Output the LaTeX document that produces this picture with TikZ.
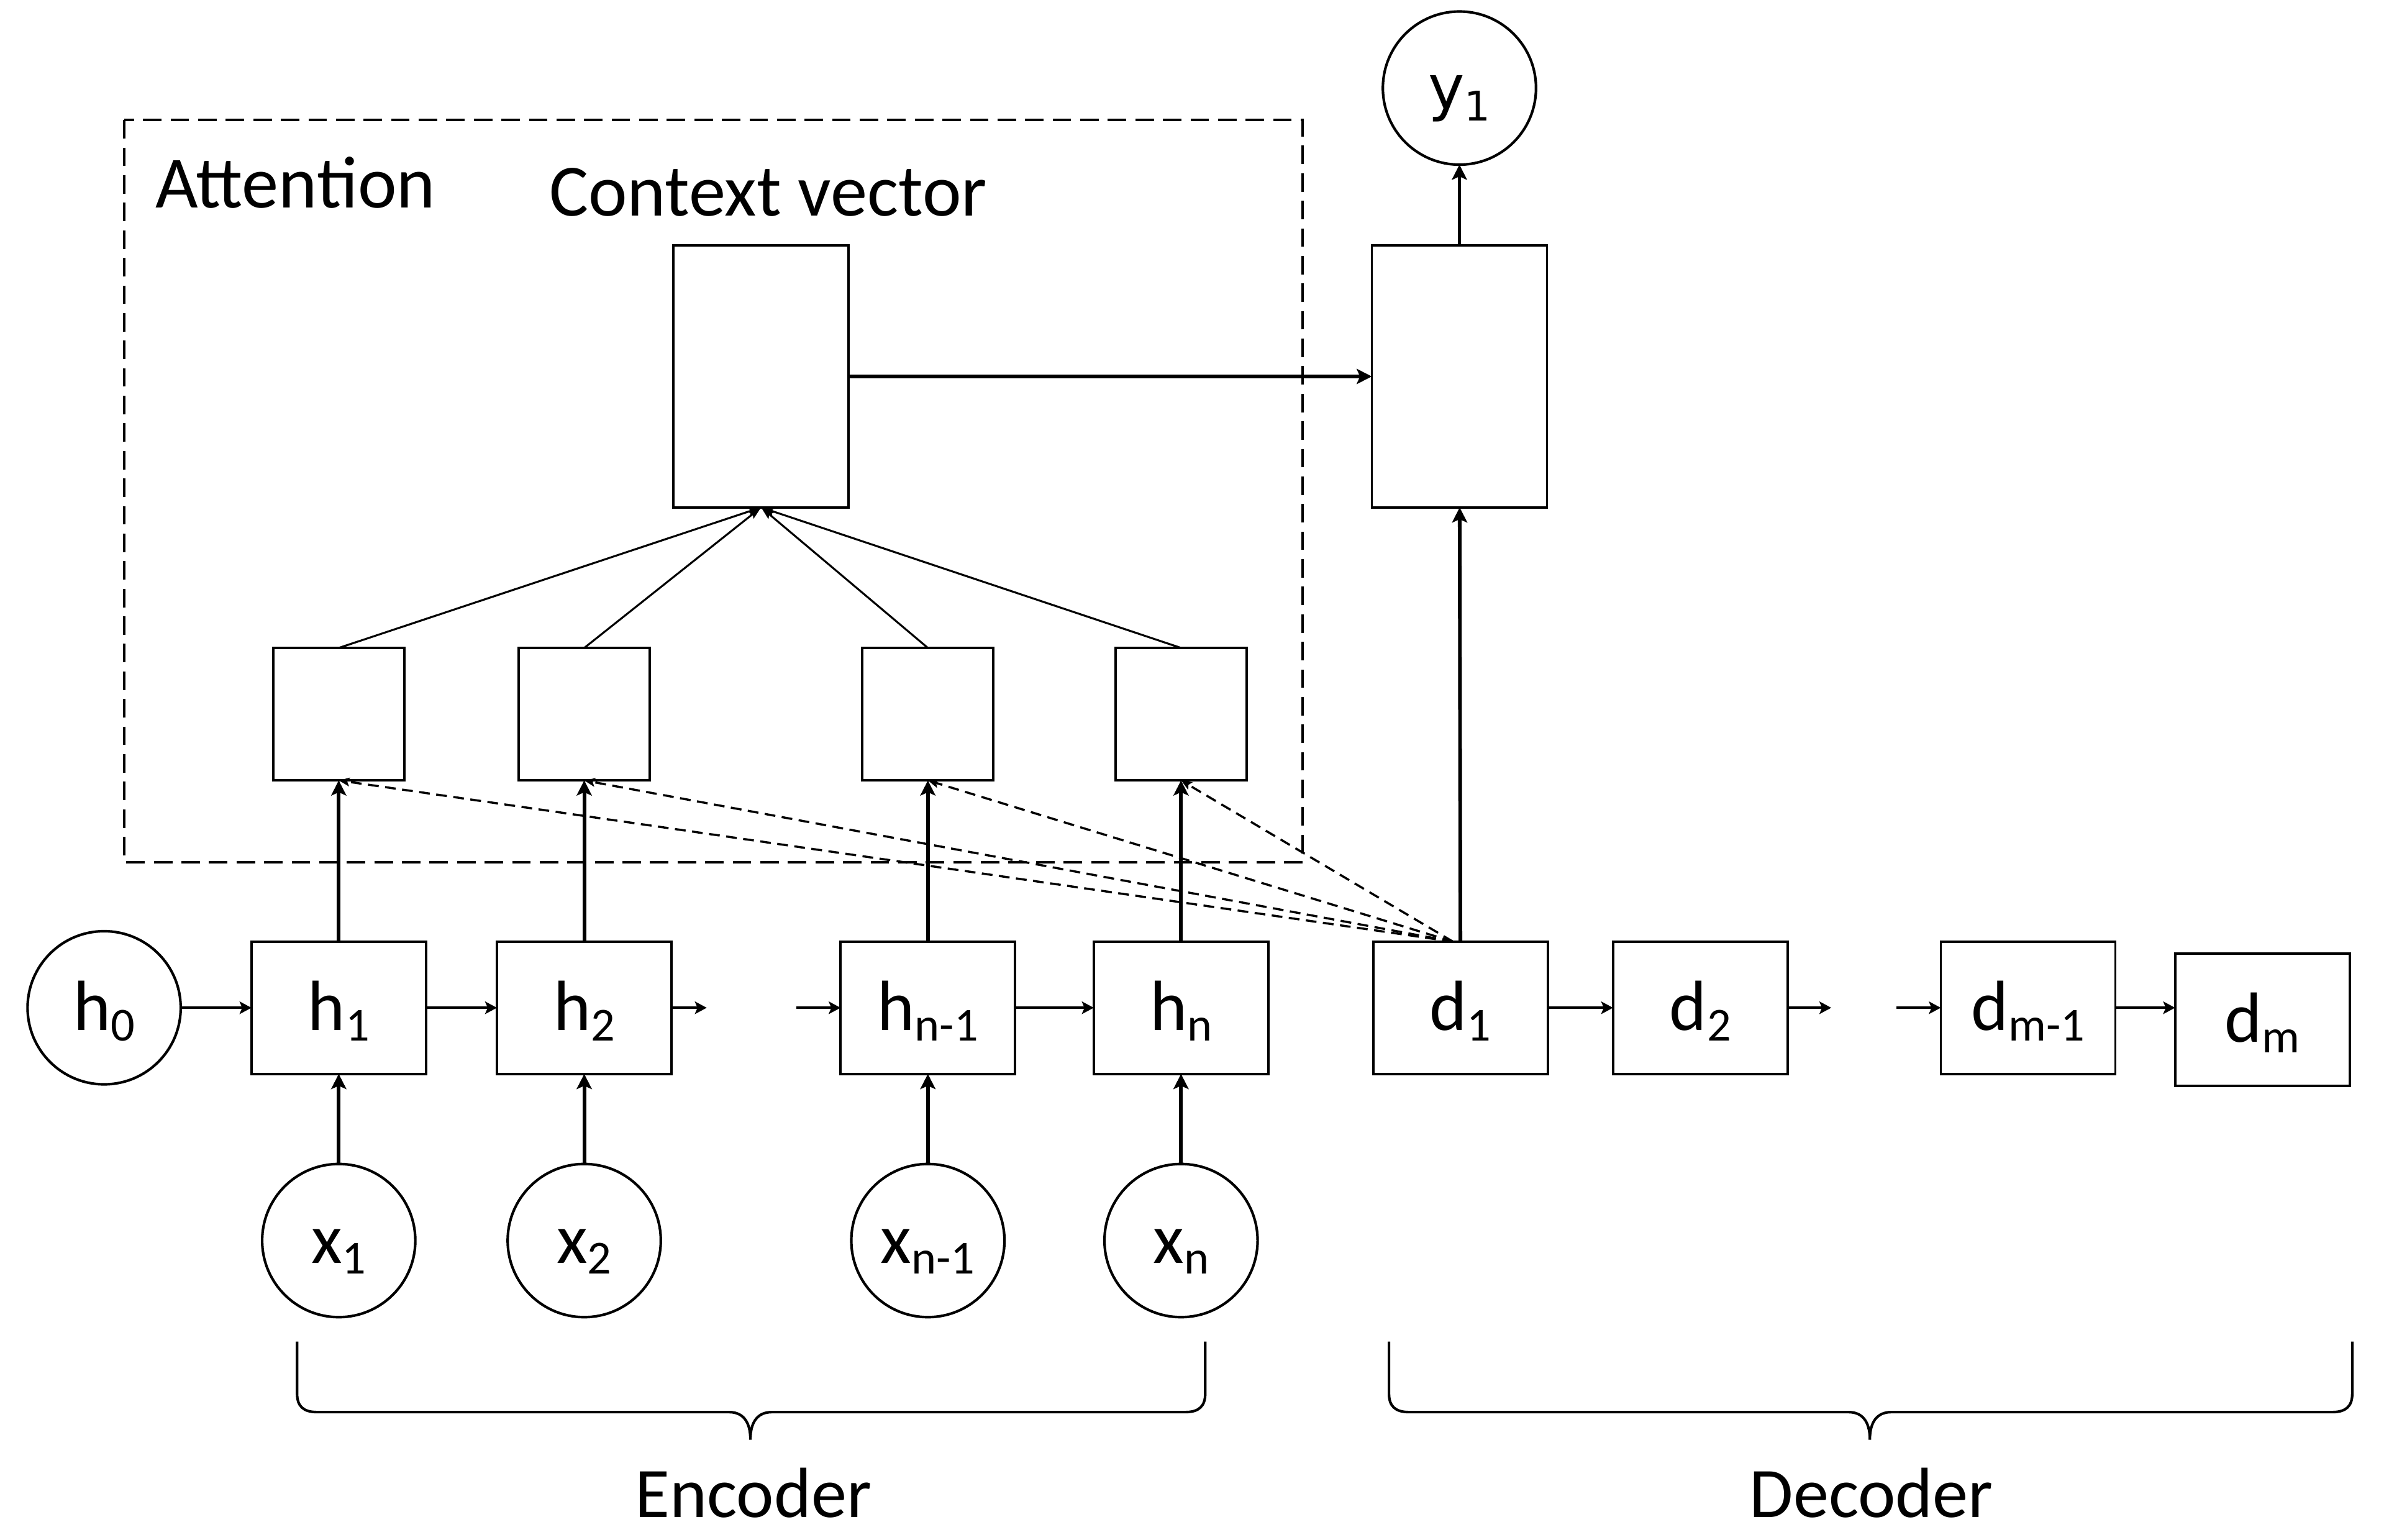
\documentclass[tikz,border=0pt]{standalone}
\usepackage{fontspec}
\setmainfont{Carlito}
\newfontfamily\dejavu{DejaVu Sans}
\usetikzlibrary{arrows.meta,calc}
\newcommand{\dpx}{0.025cm}
\newcommand{\lbl}[2]{\raisebox{-10.4pt}[0pt][0pt]{#1\raisebox{-5pt}{\fontsize{22pt}{22pt}\selectfont #2}}}
\begin{document}
\begin{tikzpicture}[x=0.025cm,y=-0.025cm,
  every node/.style={inner sep=0pt,outer sep=0pt},
  lbltext/.style={font=\fontsize{33pt}{40pt}\selectfont},
  titletext/.style={font=\fontsize{34.2pt}{40pt}\selectfont},
  hbox/.style={draw,line width=1.1pt,lbltext,minimum width=114*\dpx,minimum height=86.4*\dpx},
  sbox/.style={draw,line width=1.1pt,minimum width=85.6*\dpx,minimum height=86.5*\dpx},
  cbox/.style={draw,line width=1.1pt,minimum width=114.4*\dpx,minimum height=171*\dpx},
  circ/.style={draw,circle,line width=1.2pt,lbltext,minimum size=100*\dpx},
  harr/.style={line width=1.2pt,-{Stealth[length=5.5pt,width=5.8pt,inset=1.2pt]}},
  varr/.style={line width=1.7pt,-{Stealth[length=7pt,width=7pt,inset=1.5pt]}},
  tarr/.style={line width=0.9pt,-{Stealth[length=6pt,width=3.8pt,inset=1pt]}},
  darr/.style={line width=1pt,dash pattern=on 5pt off 3pt,-{Stealth[length=5pt,width=4pt,inset=1pt]}},
  attbox/.style={line width=1.1pt,dash pattern=on 8.6pt off 4.2pt},
  bracestyle/.style={line width=1.2pt}
]
\useasboundingbox (0,0) rectangle (1560,1005.5);

% attention frame and titles
\draw[attbox] (81,78.4) rectangle (850.7,562.9);
\node[titletext,anchor=base west] (att) at (101.5,135.5) {Attention};
\node[titletext,anchor=base] (cv) at (501.5,141) {Context vector};

% encoder row
\node[circ] (h0) at (68,658) {\lbl{h}{0}};
\node[hbox] (h1) at (221.2,658) {\lbl{h}{1}};
\node[hbox] (h2) at (381.5,658) {\lbl{h}{2}};
\node[hbox] (hn1) at (605.9,658) {\lbl{h}{n-1}};
\node[hbox] (hn) at (771.2,658) {\lbl{h}{n}};

% inputs
\node[circ] (x1) at (221.2,810) {\lbl{x}{1}};
\node[circ] (x2) at (381.5,810) {\lbl{x}{2}};
\node[circ] (xn1) at (605.9,810) {\lbl{x}{n-1}};
\node[circ] (xn) at (771.2,810) {\lbl{x}{n}};

% attention score boxes
\node[sbox] (s1) at (221.2,466.3) {};
\node[sbox] (s2) at (381.5,466.3) {};
\node[sbox] (s3) at (605.9,466.3) {};
\node[sbox] (s4) at (771.2,466.3) {};

% context and decoder output
\node[cbox] (ctx) at (497,245.8) {};
\node[cbox] (dec) at (953,245.8) {};
\node[circ,font=\dejavu\fontsize{28.5pt}{30pt}\selectfont] (y1) at (953,57.5)
  {\raisebox{-9.8pt}[0pt][0pt]{y\raisebox{-5.5pt}{\fontsize{19pt}{20pt}\selectfont 1}}};

% decoder row
\node[hbox] (d1) at (953.7,658) {\lbl{d}{1}};
\node[hbox] (d2) at (1110.3,658) {\lbl{d}{2}};
\node[hbox] (dm1) at (1324.3,658) {\lbl{d}{m-1}};
\node[hbox] (dm) at (1477.3,665.8) {\lbl{d}{m}};

% free ends
\coordinate (e1) at (461.5,658);
\coordinate (e2) at (520,658);
\coordinate (e3) at (1195.8,658);
\coordinate (e4) at (1238.5,658);
\coordinate (dst) at ($(d1.north)+(-5,0)$);

% horizontal chains
\draw[harr] (h0) -- (h1);
\draw[harr] (h1) -- (h2);
\draw[harr] (h2) -- (e1);
\draw[harr] (e2) -- (hn1);
\draw[harr] (hn1) -- (hn);
\draw[harr] (d1) -- (d2);
\draw[harr] (d2) -- (e3);
\draw[harr] (e4) -- (dm1);
\draw[harr] (dm1.east) -- (dm1.east -| dm.west);

% inputs to hidden states
\draw[varr] (x1) -- (h1);
\draw[varr] (x2) -- (h2);
\draw[varr] (xn1) -- (hn1);
\draw[varr] (xn) -- (hn);

% hidden states to score boxes
\draw[varr] (h1) -- (s1);
\draw[varr] (h2) -- (s2);
\draw[varr] (hn1) -- (s3);
\draw[varr] (hn) -- (s4);

% score boxes to context
\draw[tarr] (s1.north) -- (ctx.south);
\draw[tarr] (s2.north) -- (ctx.south);
\draw[tarr] (s3.north) -- (ctx.south);
\draw[tarr] (s4.north) -- (ctx.south);

% decoder state to scores
\draw[darr] (dst) -- (s1.south);
\draw[darr] (dst) -- (s2.south);
\draw[darr] (dst) -- (s3.south);
\draw[darr] (dst) -- (s4.south);

% decoder path
\draw[varr] (d1) -- (dec);
\draw[varr] (ctx) -- (dec);
\draw[varr] (dec) -- (y1);

% braces
\draw[bracestyle] (194,876) -- (194,910) .. controls (194,918) and (198,922) .. (207,922)
  -- (476,922) .. controls (485,922) and (490,928) .. (490,940)
  .. controls (490,928) and (495,922) .. (504,922)
  -- (774,922) .. controls (783,922) and (787,918) .. (787,910) -- (787,876);
\draw[bracestyle] (907,876) -- (907,910) .. controls (907,918) and (911,922) .. (920,922)
  -- (1207,922) .. controls (1216,922) and (1221,928) .. (1221,940)
  .. controls (1221,928) and (1226,922) .. (1235,922)
  -- (1523,922) .. controls (1532,922) and (1536,918) .. (1536,910) -- (1536,876);
\node[lbltext,anchor=base] (enc) at (491.9,990.8) {Encoder};
\node[lbltext,anchor=base] (decl) at (1222,990.8) {Decoder};
\end{tikzpicture}
\end{document}
